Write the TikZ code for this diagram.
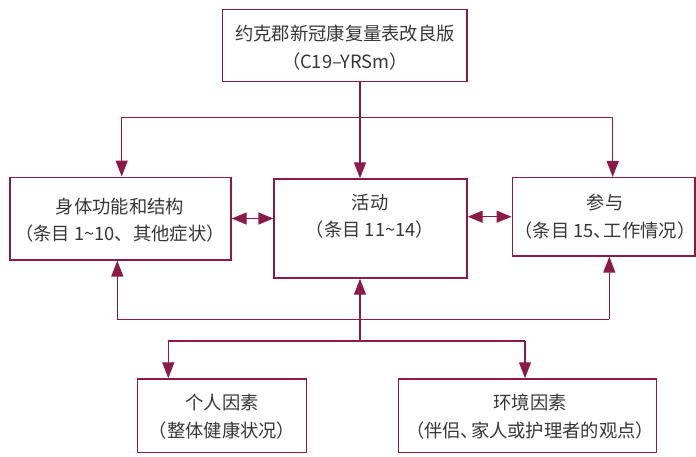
\documentclass[tikz,border=0pt]{standalone}
\usepackage{fontspec}
\newfontfamily\cjk{Noto Sans CJK SC}
\usetikzlibrary{arrows.meta}
\definecolor{wine}{RGB}{140,26,72}
\definecolor{txt}{RGB}{55,55,55}
\newcommand{\tightdun}{、\kern-0.45em}
\begin{document}
\begin{tikzpicture}[x=1pt,y=-1pt,
  box/.style={draw=wine,line width=1.4pt,fill=white,inner sep=0pt},
  lbl/.style={text=txt,align=center,font=\cjk\fontsize{18.3}{27.5}\selectfont,inner sep=0pt},
  conn/.style={draw=wine,line width=1.4pt},
  arr/.style={conn,-{Triangle[length=16pt,width=12pt]}},
  darr/.style={conn,{Triangle[length=15pt,width=12pt]}-{Triangle[length=15pt,width=12pt]}}]
\useasboundingbox (0,0) rectangle (696,456);
% boxes
\node[box,minimum width=244.5pt,minimum height=72pt] (top) at (344.75,45.4) {};
\node[box,minimum width=221pt,minimum height=82.7pt] (left) at (120.5,218.6) {};
\node[box,minimum width=193pt,minimum height=99pt] (act) at (370.5,228.5) {};
\node[box,minimum width=182.7pt,minimum height=78.3pt] (right) at (603.6,216.8) {};
\node[box,minimum width=169.4pt,minimum height=73.7pt] (pers) at (222,415.8) {};
\node[box,minimum width=258.4pt,minimum height=73.7pt] (env) at (527.5,415.8) {};
% texts
\node[lbl] (ttop) at (345,47.5) {约克郡新冠康复量表改良版\\（C19–YRSm）};
\node[lbl] (tleft) at (120,220) {身体功能和结构\\（条目 1\char"7E 10、其他症状）};
\node[lbl] (tact) at (370,216) {活动\\（条目 11\char"7E 14）};
\node[lbl] (tright) at (605,216.5) {参与\\（条目 15\tightdun 工作情况）};
\node[lbl] (tpers) at (222,416.5) {个人因素\\（整体健康状况）};
\node[lbl] (tenv) at (530,416.5) {环境因素\\（伴侣\tightdun 家人或护理者的观点）};
% top connectors
\coordinate (jt) at (360,117.3);
\coordinate (xl) at (121.7,0);
\coordinate (xr) at (612.7,0);
\draw[conn] (top.south -| jt) -- (jt);
\draw[conn] (jt -| xl) -- (jt -| xr);
\draw[arr] (jt -| xl) -- (left.north -| xl);
\draw[arr] (jt) -- (act.north -| jt);
\draw[arr] (jt -| xr) -- (right.north -| xr);
% bottom connectors
\coordinate (jb) at (360,319.3);
\coordinate (xl2) at (117.3,0);
\coordinate (xr2) at (609.3,0);
\draw[conn] (jb -| xl2) -- (jb -| xr2);
\draw[arr] (jb -| xl2) -- (left.south -| xl2);
\draw[arr] (jb) -- (act.south -| jb);
\draw[arr] (jb -| xr2) -- (right.south -| xr2);
\coordinate (jc) at (360,341);
\coordinate (xp) at (168.3,0);
\coordinate (xe) at (525,0);
\draw[conn] (jb) -- (jc);
\draw[conn] (jc -| xp) -- (jc -| xe);
\draw[arr] (jc -| xp) -- (pers.north -| xp);
\draw[arr] (jc -| xe) -- (env.north -| xe);
% double arrows
\coordinate (yd1) at (0,218.5);
\coordinate (yd2) at (0,216.7);
\draw[darr] (left.east |- yd1) -- (act.west |- yd1);
\draw[darr] (act.east |- yd2) -- (right.west |- yd2);
\end{tikzpicture}
\end{document}
